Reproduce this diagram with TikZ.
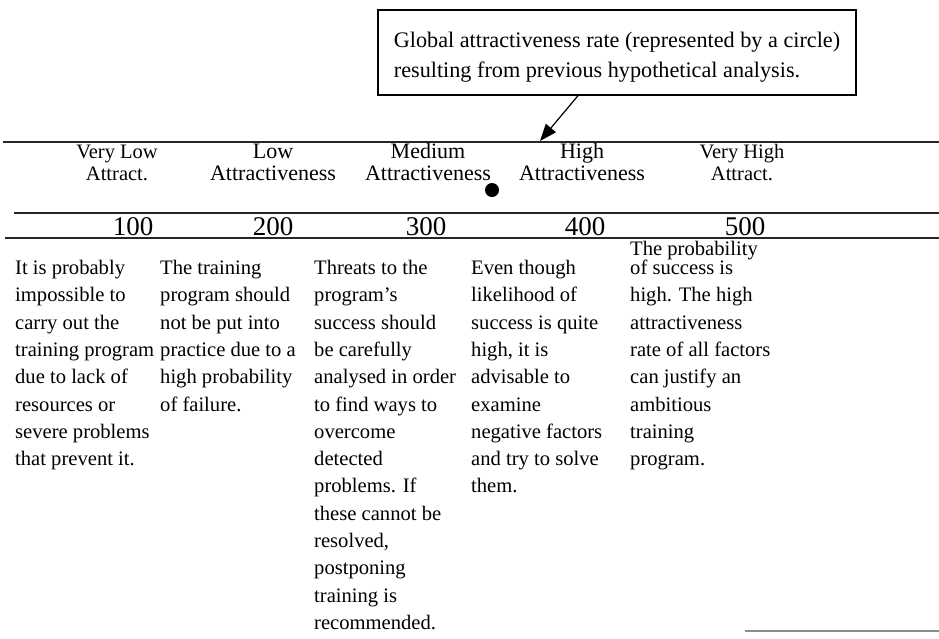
\documentclass[tikz,border=0pt]{standalone}
\usepackage{fontspec}
\setmainfont{Liberation Serif}
\usetikzlibrary{arrows.meta}
\begin{document}
\begin{tikzpicture}[x=1pt,y=-1pt,
  rule/.style={line width=1.6pt, black!85},
  faint/.style={line width=1.2pt, black!45},
  body/.style={anchor=north west, align=left, inner sep=0pt, font=\fontsize{20.6}{27.3}\selectfont},
  head/.style={anchor=north, align=center, inner sep=0pt, font=\fontsize{22}{22}\selectfont},
  headsmall/.style={anchor=north, align=center, inner sep=0pt, font=\fontsize{20.5}{22}\selectfont},
  num/.style={anchor=base, inner sep=0pt, font=\fontsize{27}{27}\selectfont},
  notebox/.style={draw, line width=1.3pt, minimum width=478pt, minimum height=85pt, inner xsep=15pt, inner ysep=0pt, align=left, font=\fontsize{22.2}{30}\selectfont},
  pointer/.style={line width=1.2pt, -{Triangle[length=17pt,width=13pt]}},
  dot/.style={circle, fill=black, minimum size=14pt, inner sep=0pt}
]
\useasboundingbox (0,0) rectangle (939,638);
\fill[white] (0,0) rectangle (939,638);

% note box and pointer
\node[notebox] (note) at (617,52.5) {\rule{0pt}{24pt}Global attractiveness rate (represented by a circle)\\resulting from previous hypothetical analysis.};
\coordinate (tip) at (540,141);
\draw[pointer] ([xshift=-39pt]note.south) -- (tip);

% rules
\draw[rule] (3,142) -- (939,142);
\draw[rule] (14,213) -- (939,213);
\draw[rule] (5,238) -- (939,238);
\draw[faint] (745,631) -- (939,631);

% headers
\node[headsmall] (h1) at (117,144.4) {Very Low\\Attract.};
\node[head] (h2) at (273,143.8) {Low\\Attractiveness};
\node[head] (h3) at (428,143.4) {Medium\\Attractiveness};
\node[head] (h4) at (582,143.4) {High\\Attractiveness};
\node[headsmall] (h5) at (742,144.4) {Very High\\Attract.};

% global rate marker
\node[dot] (mark) at (492,190) {};

% scale values
\node[num] (n1) at (133,235) {100};
\node[num] (n2) at (273,235) {200};
\node[num] (n3) at (426,235) {300};
\node[num] (n4) at (585,235) {400};
\node[num] (n5) at (745,235) {500};

% descriptions
\node[body] (d1) at (15,260) {It is probably\\impossible to\\carry out the\\training program\\due to lack of\\resources or\\severe problems\\that prevent it.};
\node[body] (d2) at (160,260) {The training\\program should\\not be put into\\practice due to a\\high probability\\of failure.};
\node[body] (d3) at (314,260) {Threats to the\\program’s\\success should\\be carefully\\analysed in order\\to find ways to\\overcome\\detected\\problems.  If\\these cannot be\\resolved,\\postponing\\training is\\recommended.};
\node[body] (d4) at (471,260) {Even though\\likelihood of\\success is quite\\high, it is\\advisable to\\examine\\negative factors\\and try to solve\\them.};
\node[body] (d5) at (630,241) {The probability\\[-8.3pt]of success is\\high.  The high\\attractiveness\\rate of all factors\\can justify an\\ambitious\\training\\program.};
\end{tikzpicture}
\end{document}
